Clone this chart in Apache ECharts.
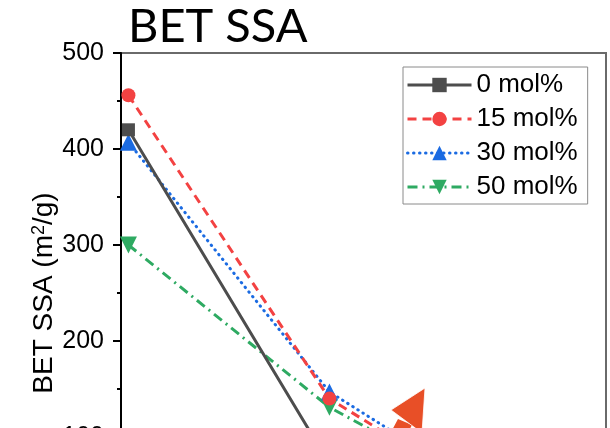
<!DOCTYPE html>
<html>
<head>
<meta charset="utf-8">
<script src="https://cdn.jsdelivr.net/npm/echarts@6/dist/echarts.min.js"></script>
<style>html,body{margin:0;padding:0;background:#fff}#c{width:610px;height:428px}</style>
</head>
<body>
<div id="c"></div>
<script>
// x positions (sample index) and BET SSA values (m2/g)
var xValues = [1, 2, 3];
var seriesNames = ['0 mol%', '15 mol%', '30 mol%', '50 mol%'];
var ssa0 = [420, 72, 5];
var ssa15 = [456, 140, 10];
var ssa30 = [407, 147, 15];
var ssa50 = [300, 131, 17];
var yTicks = [0, 100, 200, 300, 400, 500];

var chart = echarts.init(document.getElementById('c'), null, {renderer: 'canvas'});
function pts(v) { return xValues.map(function (x, i) { return [x, v[i]]; }); }
var font = '"Liberation Sans", Arial, sans-serif';

var styles = [
  {color: '#4d4d4d', symbol: 'rect', size: 13, rot: 0, type: 'solid', cap: 'butt'},
  {color: '#f34242', symbol: 'circle', size: 14, rot: 0, type: [9, 6], cap: 'butt'},
  {color: '#1b6be2', symbol: 'triangle', size: 17, rot: 0, type: [0.5, 5.5], cap: 'round'},
  {color: '#2eaa62', symbol: 'triangle', size: 17, rot: 180, type: [10, 5, 2, 5], cap: 'butt'}
];
var data = [ssa0, ssa15, ssa30, ssa50];

var series = seriesNames.map(function (n, i) {
  var s = styles[i];
  return {
    name: n, type: 'line', data: pts(data[i]),
    symbol: s.symbol, symbolSize: s.size, symbolRotate: s.rot,
    showAllSymbol: true,
    itemStyle: {color: s.color},
    lineStyle: {color: s.color, width: 3, type: s.type, cap: s.cap},
    z: 2 + (3 - i),
    animation: false
  };
});

chart.setOption({
  animation: false,
  backgroundColor: '#fff',
  title: {
    text: 'BET SSA', left: 128, top: 3, padding: 0,
    textStyle: {fontFamily: 'Lato', fontSize: 47, fontWeight: 'normal', color: '#000'}
  },
  grid: {
    left: 121, top: 53, right: 4, height: 480,
    containLabel: false, outerBoundsMode: 'none',
    show: true, borderColor: '#6a6a6a', borderWidth: 2
  },
  legend: {
    left: 403, top: 67, orient: 'vertical',
    padding: [5, 10, 4, 3], itemGap: 8, itemWidth: 64, itemHeight: 18,
    backgroundColor: '#fff', borderColor: '#8a8a8a', borderWidth: 1, borderRadius: 0,
    lineStyle: {width: 3},
    textStyle: {fontFamily: font, fontSize: 26, color: '#000'},
    data: seriesNames
  },
  xAxis: {
    type: 'value', min: 0.963, max: 3.376,
    axisLine: {show: false}, axisTick: {show: false}, axisLabel: {show: false}, splitLine: {show: false}
  },
  yAxis: {
    type: 'value', min: yTicks[0], max: yTicks[yTicks.length - 1], interval: 100,
    name: 'BET SSA (m{sup|2}/g)', nameLocation: 'middle', nameGap: 63, nameRotate: 90,
    nameMoveOverlap: false,
    nameTextStyle: {fontFamily: font, fontSize: 28, color: '#000',
      rich: {sup: {fontFamily: font, fontSize: 18, verticalAlign: 'top', color: '#000'}}},
    axisLine: {show: true, lineStyle: {color: '#000', width: 2}},
    axisTick: {show: true, inside: false, length: 8, lineStyle: {color: '#000', width: 2}},
    minorTick: {show: true, splitNumber: 2, length: 4, lineStyle: {color: '#000', width: 2}},
    axisLabel: {fontFamily: font, fontSize: 25, color: '#000', margin: 17},
    splitLine: {show: false}
  },
  graphic: [
    {type: 'polygon', z: 100, shape: {points: [[398, 419], [412, 425], [404, 440], [390, 434]]}, style: {fill: '#e84f27'}},
    {type: 'polygon', z: 101, shape: {points: [[391, 410], [425, 388], [422, 433]]}, style: {fill: '#e84f27', stroke: '#fff', lineWidth: 0.8}}
  ],
  series: series
});
</script>
</body>
</html>
